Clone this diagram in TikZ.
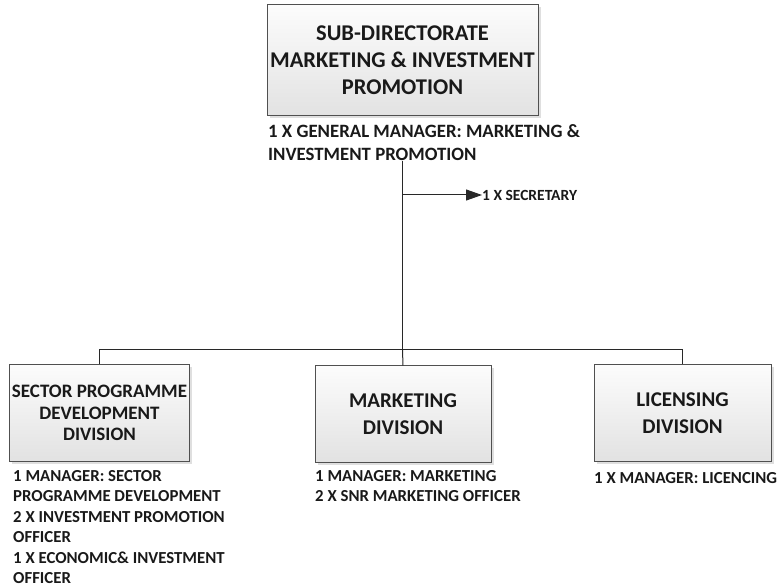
\documentclass[tikz,border=0pt]{standalone}
\usepackage{fontspec}
\setmainfont{Carlito}
\usetikzlibrary{arrows.meta, positioning, shadows}
\definecolor{boxline}{RGB}{80,80,80}
\definecolor{boxtop}{RGB}{252,252,252}
\definecolor{boxbot}{RGB}{226,226,226}
\definecolor{wireclr}{RGB}{40,40,40}
\definecolor{txtdark}{RGB}{25,25,25}
\tikzset{
  divbox/.style={rectangle, draw=boxline, line width=1pt,
    top color=boxtop, bottom color=boxbot, align=center, text=txtdark,
    drop shadow={shadow xshift=2.5pt, shadow yshift=-2.5pt, opacity=0.25, fill=gray},
    font=\bfseries\fontsize{21}{27}\selectfont, inner sep=2pt},
  staff/.style={anchor=north west, inner sep=0pt, align=left, text=txtdark,
    font=\bfseries\fontsize{16.8}{20.5}\selectfont},
  wire/.style={draw=wireclr, line width=1pt},
  arrow/.style={wire, -{Triangle[length=16pt, width=11pt]}}
}
\begin{document}
\begin{tikzpicture}[x=1pt, y=-1pt]
  \useasboundingbox (0,0) rectangle (780,588);

  % sub-directorate
  \node[divbox, minimum width=271pt, minimum height=111pt,
    font=\bfseries\fontsize{22.5}{27}\selectfont] (top) at (402.5,60.5)
    {SUB-DIRECTORATE\\MARKETING \& INVESTMENT\\PROMOTION};
  \node[staff, font=\bfseries\fontsize{18.8}{23}\selectfont] (gm) at (268,124)
    {1 X GENERAL MANAGER: MARKETING \&\\INVESTMENT PROMOTION};

  % secretary
  \node[anchor=west, inner sep=0pt, text=txtdark,
    font=\bfseries\fontsize{15.5}{17}\selectfont] (sec) at (482,195) {1 X SECRETARY};

  % divisions
  \node[divbox, minimum width=173pt, minimum height=96pt,
    font=\bfseries\fontsize{19}{21.5}\selectfont] (sector) at (99.5,413)
    {SECTOR PROGRAMME\\DEVELOPMENT\\DIVISION};
  \node[divbox, minimum width=176pt, minimum height=96pt] (mkt) at (403,414)
    {MARKETING\\DIVISION};
  \node[divbox, minimum width=177pt, minimum height=96pt] (lic) at (682.5,413)
    {LICENSING\\DIVISION};

  \node[staff] (sectorstaff) at (13,470)
    {1 MANAGER: SECTOR\\PROGRAMME DEVELOPMENT\\2 X INVESTMENT PROMOTION\\OFFICER\\1 X ECONOMIC\& INVESTMENT\\OFFICER};
  \node[staff] (mktstaff) at (315,470)
    {1 MANAGER: MARKETING\\2 X SNR MARKETING OFFICER};
  \node[staff] (licstaff) at (594,472)
    {1 X MANAGER: LICENCING};

  % connectors
  \coordinate (bus) at (top.center |- 0,350);
  \draw[wire] (gm.south -| top.center) -- (bus);
  \draw[arrow] (sec.west -| top.center) -- (sec.west);
  \draw[wire] (sector.north) -- ++(0,-15) -| (lic.north);
  \draw[wire] (bus) -- (mkt.north);
\end{tikzpicture}
\end{document}
